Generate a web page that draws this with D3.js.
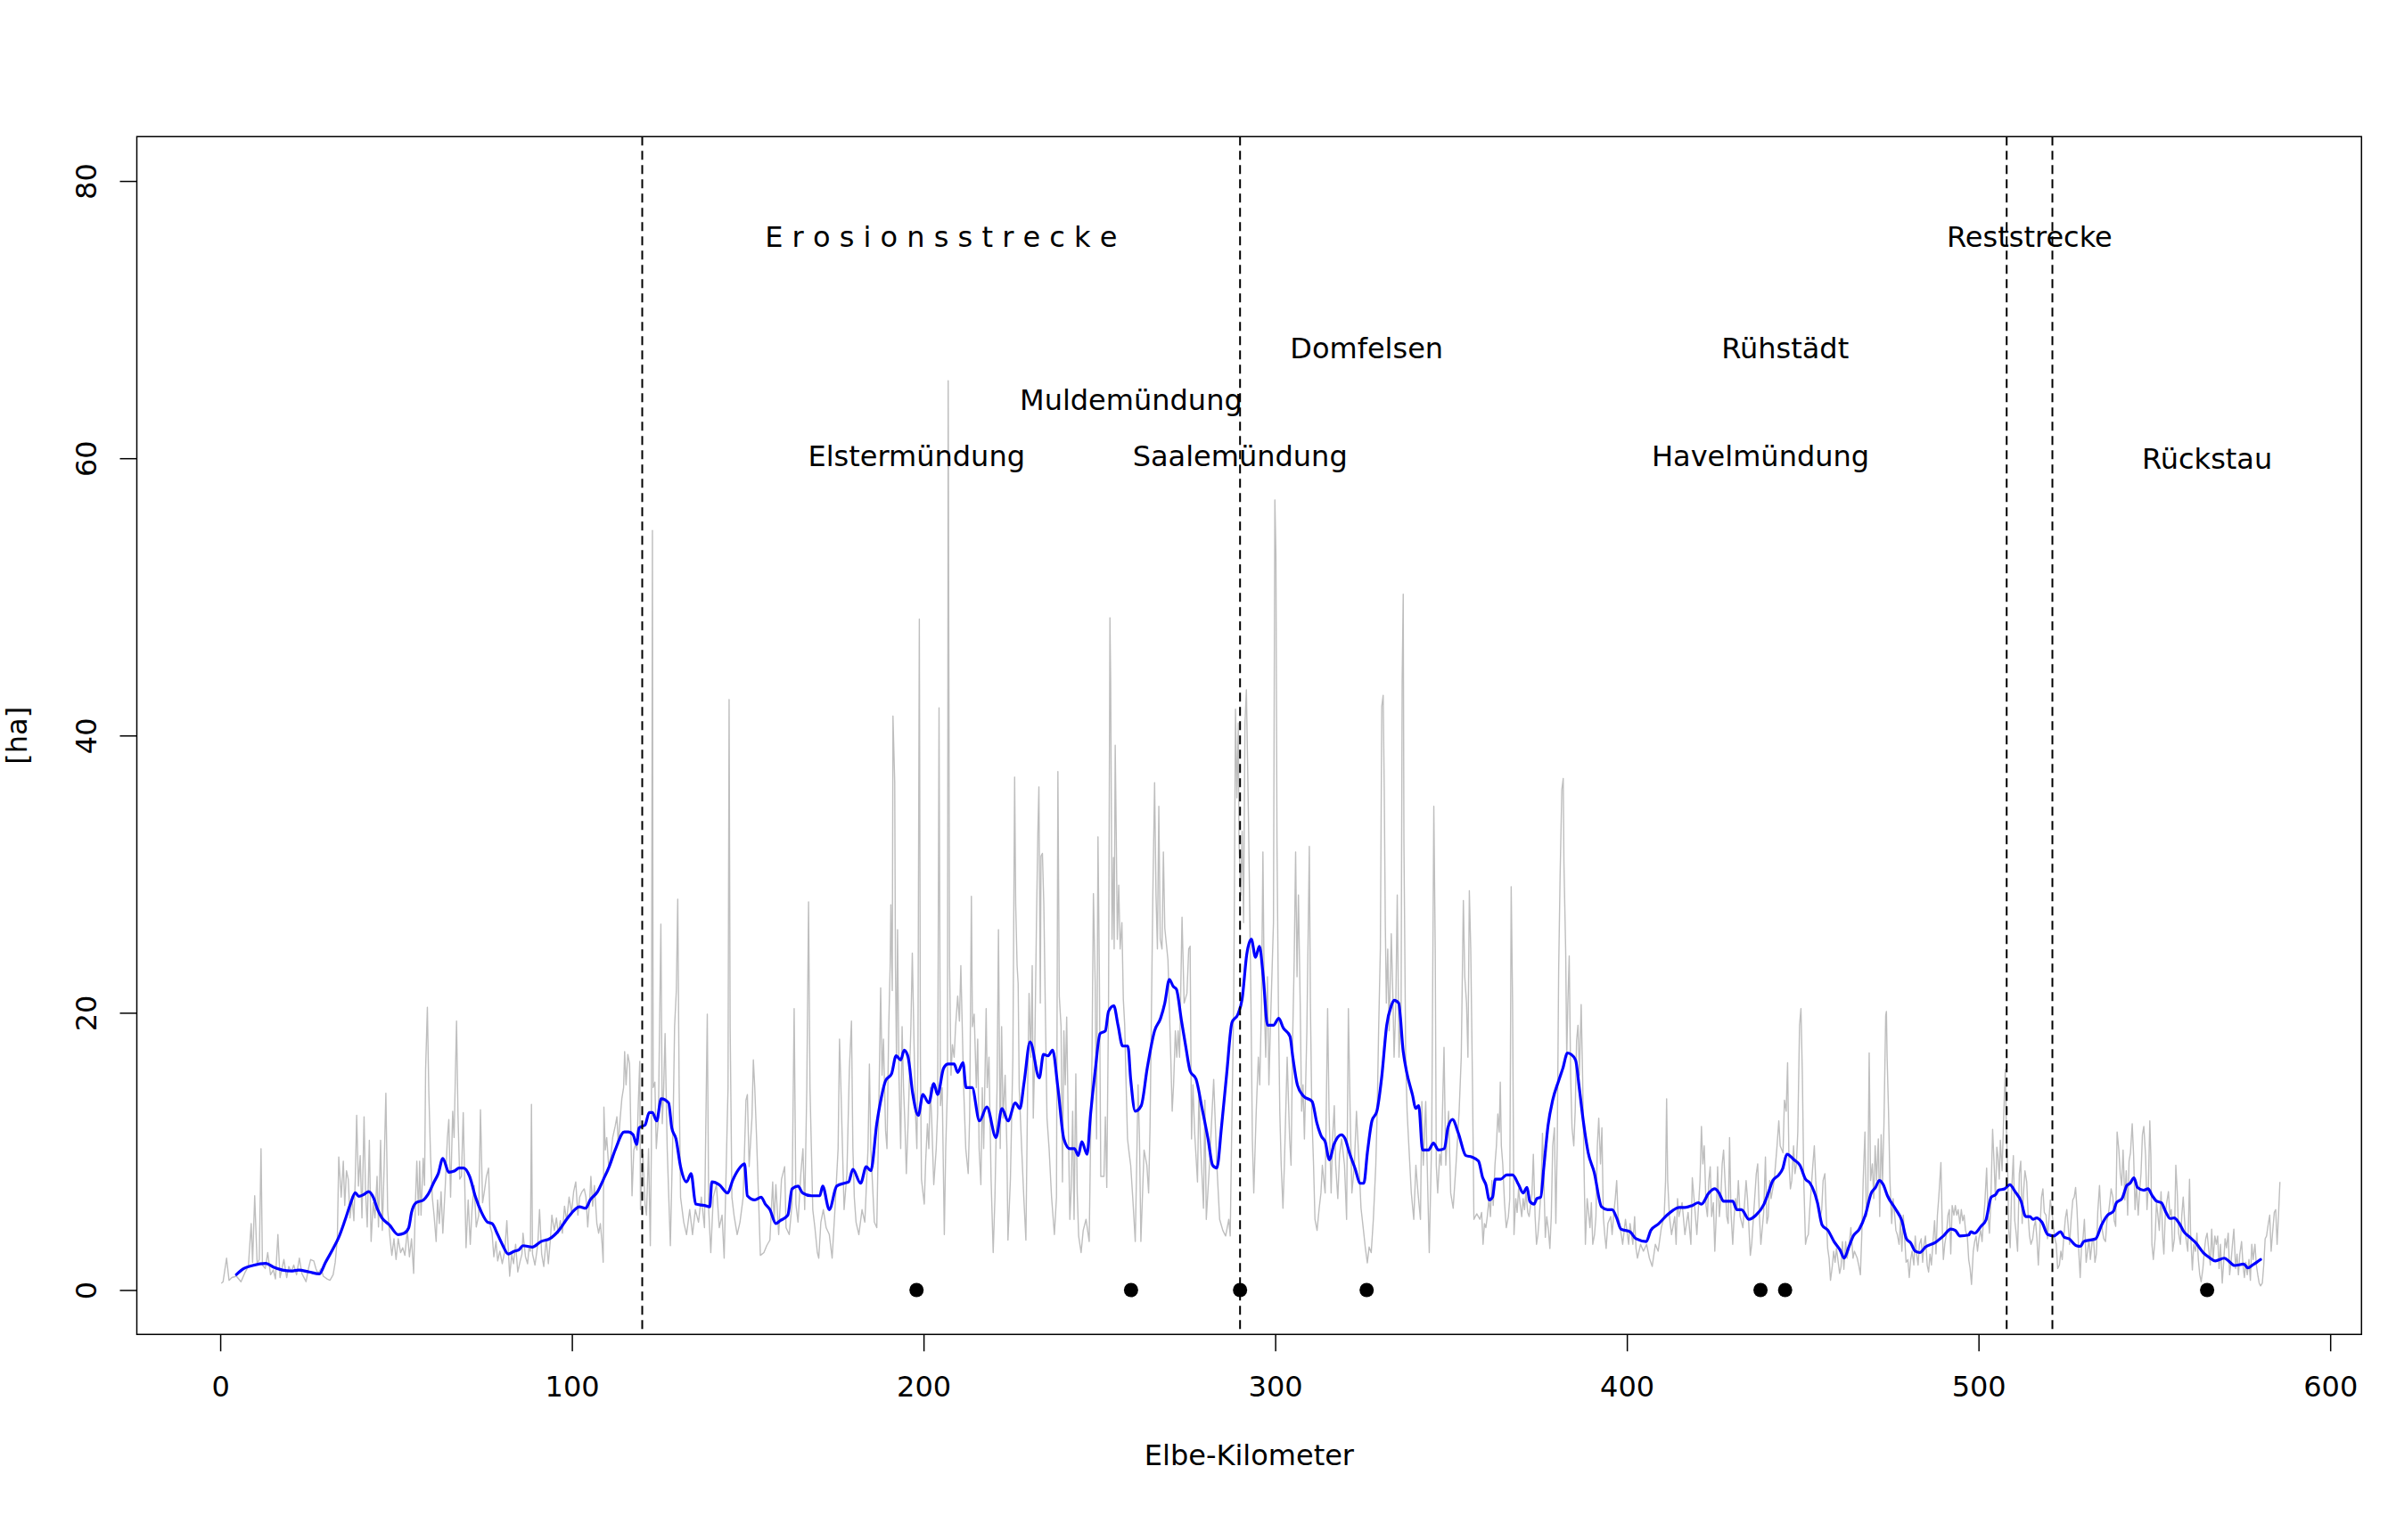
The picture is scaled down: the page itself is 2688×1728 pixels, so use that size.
<!DOCTYPE html>
<html><head><meta charset="utf-8">
<script src="https://cdn.jsdelivr.net/npm/d3@7"></script>
<style>html,body{margin:0;padding:0;background:#fff}svg{display:block}</style>
</head><body>
<svg id="chart" width="2688" height="1728"></svg>
<script>
// ---------------- data ----------------
const xTicks = [0, 100, 200, 300, 400, 500, 600];
const yTicks = [0, 20, 40, 60, 80];
const xLabel = "Elbe-Kilometer";
const yLabel = "[ha]";

// section boundaries (Elbe-km)
const boundaryKm = [120, 290, 508, 521];

// river sites marked on the axis (Elbe-km)
const siteKm = [198, 259, 290, 326, 438, 445, 565];

// annotations
const labelText = ["E r o s i o n s s t r e c k e", "Reststrecke", "Domfelsen", "Rühstädt", "Muldemündung",
                   "Elstermündung", "Saalemündung", "Havelmündung", "Rückstau"];
const labelKm = [205, 514.5, 326, 445, 259, 198, 290, 438, 565];
const labelHa = [76, 76, 68, 68, 64, 60, 60, 60, 60];

// raw values per Elbe-km [km, ha]
const rawSeries = [
[0.3,0.48],[0.8,0.59],[1.8,2.3],[2.5,0.7],[3.3,0.9],[4.6,1.0],[5.9,0.6],[7.1,1.3],[8.0,1.7],[8.8,4.8],[9.2,2.0],[9.8,6.8],[10.5,1.9],[11.1,2.2],[11.6,10.2],[12.0,1.8],[12.8,1.55],[13.5,2.7],[14.3,1.1],[15.1,1.45],[15.7,0.8],[16.4,4.0],[17.0,0.9],[18.1,2.2],[18.9,0.9],[19.5,1.7],[20.2,1.3],[20.9,1.8],[21.7,1.1],[22.5,2.3],[23.2,1.2],[24.4,0.6],[25.1,1.55],[25.7,2.2],[26.6,2.1],[27.2,1.55],[27.8,1.2],[28.7,1.55],[29.3,1.0],[30.4,0.8],[31.2,0.7],[32.1,1.1],[32.7,2.0],[33.3,3.7],[33.7,9.6],[34.4,6.7],[35.0,9.3],[35.4,6.1],[35.9,8.6],[36.4,8.0],[36.9,5.2],[37.5,6.7],[38.0,5.0],[38.4,8.0],[38.8,12.6],[39.3,7.5],[39.8,9.7],[40.3,5.2],[40.9,12.5],[41.3,7.3],[41.8,4.55],[42.4,10.8],[42.9,3.5],[43.5,6.3],[44.0,5.2],[44.6,8.2],[45.0,4.55],[45.6,10.8],[46.1,4.3],[46.6,8.8],[47.1,14.2],[47.6,5.8],[48.3,3.7],[48.8,2.5],[49.4,3.7],[50.0,2.2],[50.6,3.7],[51.3,2.7],[51.9,3.05],[52.5,2.5],[53.2,4.3],[53.8,2.4],[54.4,3.7],[55.0,1.2],[55.5,6.3],[55.9,9.3],[56.4,5.4],[56.7,9.3],[57.1,5.4],[57.7,9.5],[58.1,7.55],[58.4,15.9],[58.9,20.4],[59.3,14.4],[59.8,9.7],[60.3,6.7],[60.8,5.4],[61.4,3.5],[61.8,6.5],[62.3,4.8],[62.8,7.1],[63.3,4.1],[64.0,7.55],[64.6,11.0],[65.0,12.3],[65.5,6.7],[66.1,12.9],[66.5,11.0],[66.9,15.9],[67.2,19.4],[67.6,12.7],[68.1,8.0],[68.6,8.2],[69.1,12.8],[69.5,8.0],[69.9,3.05],[70.5,6.5],[71.1,3.3],[71.6,5.8],[72.2,7.55],[72.8,4.55],[73.5,5.4],[74.0,13.0],[74.6,6.3],[75.1,7.1],[75.7,8.2],[76.3,8.8],[76.8,4.55],[77.3,4.1],[77.8,2.4],[78.4,3.5],[78.9,2.1],[79.5,2.8],[80.2,1.9],[80.9,2.8],[81.5,5.0],[82.3,1.0],[82.9,2.6],[83.4,1.9],[84.0,3.3],[84.6,1.3],[85.3,2.1],[85.8,2.6],[86.1,4.1],[86.8,2.4],[87.4,1.9],[87.8,3.05],[88.2,2.8],[88.5,13.4],[88.8,2.6],[89.5,1.8],[90.3,3.3],[90.8,5.8],[91.4,2.6],[92.0,1.7],[92.7,3.7],[93.3,1.9],[93.9,3.7],[94.3,5.4],[95.0,4.3],[95.6,5.2],[96.1,4.1],[96.7,5.0],[97.3,4.1],[97.9,6.05],[98.5,5.0],[99.2,6.7],[99.9,5.6],[100.5,7.1],[101.1,7.8],[101.7,5.4],[102.2,6.7],[102.9,7.1],[103.5,7.3],[104.0,6.7],[104.5,4.55],[105.1,6.7],[105.4,8.2],[105.9,6.05],[106.4,7.55],[107.1,4.8],[107.6,4.1],[108.1,4.8],[108.6,3.3],[108.9,2.0],[109.1,13.2],[109.5,10.1],[109.9,11.0],[110.5,8.8],[111.1,9.7],[111.6,11.0],[112.3,11.8],[112.8,12.5],[113.2,10.5],[113.7,12.3],[114.2,13.8],[114.7,14.6],[115.0,17.2],[115.4,14.8],[115.9,17.0],[116.4,16.3],[116.9,9.7],[117.1,6.8],[117.6,10.1],[118.1,10.5],[118.5,10.1],[118.9,13.6],[119.3,16.5],
[119.5,5.8],[120.2,9.8],[120.8,6.2],[121.2,5.4],[121.8,10.2],[122.3,3.2],[122.6,10.2],[122.9,54.8],[123.1,14.6],[123.6,15.0],[124.0,10.2],[124.6,12.4],[125.3,26.4],[125.7,12.0],[126.1,14.6],[126.5,18.5],[127.1,10.2],[128.0,3.2],[128.8,12.4],[129.2,19.0],[129.7,21.6],[130.1,28.2],[130.5,14.6],[130.9,6.7],[131.8,4.9],[132.6,4.0],[133.5,5.8],[134.3,4.0],[135.1,5.8],[136.0,4.9],[136.8,6.7],[137.7,4.5],[138.5,19.9],[138.9,5.8],[139.5,2.7],[140.2,6.7],[141.1,7.6],[141.9,4.5],[142.7,5.4],[143.3,2.3],[144.0,10.2],[144.4,14.6],[144.7,42.6],[145.0,19.0],[145.5,6.7],[146.1,5.4],[147.0,4.0],[147.8,4.9],[148.7,6.7],[149.5,13.7],[149.9,14.1],[150.4,8.9],[151.2,12.4],[151.6,16.6],[152.0,14.6],[152.5,11.1],[152.9,8.0],[153.6,2.5],[154.6,2.7],[155.4,3.2],[156.3,3.6],[157.1,7.8],[157.5,4.9],[158.0,7.6],[158.8,4.0],[159.6,8.0],[160.5,8.9],[160.9,4.5],[161.8,4.0],[162.6,6.2],[163.2,20.3],[163.7,6.2],[164.3,4.9],[165.1,8.4],[165.7,10.2],[166.2,5.8],[166.8,14.6],[167.3,28.0],[167.7,14.6],[168.1,10.2],[168.5,5.8],[169.1,4.5],[169.8,2.7],[170.2,2.3],[170.8,4.9],[171.5,5.8],[172.3,4.5],[173.2,4.0],[174.0,2.3],[174.8,5.8],[175.7,10.2],[176.1,18.1],[176.5,14.6],[177.4,5.8],[178.2,8.4],[178.9,15.9],[179.5,19.4],[179.9,10.2],[180.3,6.7],[180.8,4.9],[181.6,4.0],[182.5,5.8],[183.3,4.9],[184.2,10.2],[184.6,16.3],[185.0,10.2],[186.0,4.9],[186.7,4.5],[187.1,10.2],[187.5,16.8],[187.8,21.8],[188.2,15.5],[188.6,18.1],[189.2,11.5],[189.6,10.2],[190.1,19.0],[190.5,23.4],[190.7,27.8],[191.1,21.6],[191.3,41.4],[191.8,36.6],[192.0,23.4],[192.3,16.8],[192.6,26.0],[193.0,15.5],[193.5,10.2],[193.9,19.0],[194.3,14.6],[194.7,12.0],[195.1,8.4],[195.6,12.0],[196.0,15.5],[196.4,19.0],[196.8,24.3],[197.3,17.7],[197.7,12.8],[198.1,10.2],[198.4,16.8],[198.8,48.4],[199.1,16.8],[199.4,8.0],[199.8,7.1],[200.2,6.2],[200.6,9.3],[201.1,12.0],[201.5,10.2],[201.9,14.6],[202.3,12.4],[202.9,7.6],[203.6,10.2],[204.0,12.8],[204.4,42.0],[204.8,13.3],[205.3,14.6],[205.9,4.0],[206.3,10.2],[206.8,14.6],[207.0,65.6],[207.4,23.4],[207.8,15.5],[208.2,17.7],[208.7,16.8],[209.1,19.0],[209.7,21.2],[210.2,19.4],[210.6,23.4],[211.0,19.0],[211.4,14.6],[212.0,10.2],[212.7,8.4],[213.1,12.4],[213.6,28.4],[213.9,19.0],[214.4,19.9],[215.0,14.6],[215.4,18.1],[215.8,10.2],[216.3,7.6],[216.7,14.6],[217.1,10.2],[217.8,20.3],[218.1,14.6],[218.6,16.8],[219.2,8.0],[219.8,2.7],[220.3,6.7],[220.9,14.6],[221.3,26.0],[221.8,10.2],[222.2,19.0],[222.6,12.4],[223.2,15.5],[223.7,10.2],[224.0,3.6],[224.7,8.0],[225.4,16.8],[225.9,37.0],[226.2,27.8],[226.6,23.4],[226.9,22.1],[227.2,14.6],[227.9,10.2],[228.5,6.7],[229.1,3.6],[229.6,14.6],[230.0,21.4],[230.5,16.8],[230.9,23.4],[231.2,12.4],[231.6,16.8],[232.1,26.4],[232.5,33.0],[232.8,36.3],[233.2,20.7],[233.4,31.3],[233.8,31.5],[234.2,27.8],[234.7,19.0],[235.1,12.4],[235.7,10.2],[236.4,6.7],[237.2,4.0],[237.8,6.7],[238.2,37.4],[238.6,21.2],[239.1,19.0],
[239.5,7.8],[239.9,18.7],[240.3,14.8],[240.7,19.7],[241.1,12.9],[241.6,5.1],[242.0,7.4],[242.4,12.9],[242.8,5.1],[243.3,15.6],[243.7,7.0],[244.1,3.9],[244.8,2.7],[245.4,4.3],[246.2,5.1],[247.1,3.5],[247.5,10.9],[247.9,16.8],[248.3,28.6],[248.8,22.2],[249.2,10.9],[249.6,32.7],[250.0,22.6],[250.4,8.2],[251.3,8.2],[251.7,12.5],[252.1,7.4],[252.6,20.7],[253.0,48.5],[253.2,44.0],[253.6,25.3],[254.0,31.2],[254.2,24.6],[254.5,39.3],[254.8,32.7],[255.1,25.3],[255.5,29.2],[255.9,24.6],[256.4,26.5],[256.8,21.0],[257.2,19.1],[257.6,14.8],[258.0,10.9],[258.5,9.8],[258.9,9.0],[259.5,6.6],[260.2,3.5],[260.6,9.0],[261.0,14.8],[261.4,10.9],[261.8,3.5],[262.7,10.1],[263.5,9.0],[264.0,7.0],[264.4,11.7],[265.2,28.5],[265.7,36.6],[266.1,28.5],[266.5,24.6],[266.9,34.9],[267.3,25.3],[267.8,24.6],[268.2,31.6],[268.6,26.1],[269.5,23.8],[270.3,16.8],[270.7,12.9],[271.1,14.8],[271.6,18.7],[272.0,16.8],[272.4,18.7],[272.8,16.8],[273.5,26.9],[274.1,20.7],[274.9,21.4],[275.4,24.6],[275.8,24.8],[276.2,10.9],[276.6,14.8],[277.1,11.3],[277.9,7.8],[278.3,14.4],[278.7,10.9],[279.6,5.9],[280.0,13.7],[280.4,5.1],[281.3,9.0],[282.5,15.2],[283.4,9.0],[284.2,5.1],[285.1,4.3],[285.9,3.9],[286.8,5.1],[287.2,3.9],[287.6,10.9],[288.2,20.7],[288.7,41.9],[289.1,35.5],[289.5,40.9],[289.7,32.3],[290.2,28.5],[290.6,33.1],[291.0,26.5],[291.4,40.9],[291.8,43.3],[292.3,35.5],[292.7,28.5],[293.1,20.7],[293.5,10.9],[293.9,7.0],[294.6,12.9],[295.2,16.8],[295.6,14.8],[296.1,20.7],[296.5,31.6],[296.9,20.7],[297.3,16.8],[297.8,22.6],[298.2,14.8],[298.6,18.7],[299.5,26.5],[299.9,57.0],[300.2,53.0],[300.5,32.3],[300.9,20.7],[301.3,12.9],[301.7,9.0],[302.2,5.9],[302.6,9.0],[303.0,12.9],[303.4,16.8],[304.1,10.9],[304.5,9.0],[305.0,18.7],[305.4,23.8],[305.8,31.6],[306.2,22.6],[306.6,28.5],[307.1,20.7],[307.5,12.9],[307.9,14.8],[308.3,10.9],[309.0,18.7],[309.7,32.0],[310.0,20.7],[310.4,12.9],[310.9,9.0],[311.3,5.1],[311.9,4.3],[312.5,5.9],[313.0,7.0],[313.4,9.0],[314.2,7.0],[314.9,20.3],[315.3,12.9],[315.9,7.0],[316.3,10.9],[316.8,13.3],[317.2,9.0],[317.8,6.6],[318.3,9.8],[318.9,10.9],[319.7,9.0],[320.3,5.1],[320.8,20.3],[321.3,12.9],[321.8,7.0],[322.5,9.0],[323.1,12.9],[323.7,9.8],[324.4,5.9],[325.1,4.3],[325.6,3.1],[326.2,1.96],[326.7,3.1],[327.3,2.7],[327.9,5.1],[328.6,9.0],[329.0,12.9],[329.4,18.7],[329.9,24.6],[330.3,42.1],[330.7,42.9],[331.0,36.2],[331.3,26.5],[331.6,20.7],[332.0,24.6],[332.4,18.7],[333.0,25.7],[333.5,20.7],[333.8,16.8],[334.3,20.7],[334.7,28.5],[335.2,16.8],[335.8,20.7],[336.1,44.0],[336.4,50.2],[336.6,32.3],[337.1,16.8],[337.5,12.9],[337.9,10.9],[338.7,7.0],[339.4,5.1],[340.0,9.0],[340.6,7.0],[341.3,5.1],[341.7,13.6],[342.1,9.0],[342.8,13.6],[343.4,7.0],[343.8,2.7],[344.5,10.9],[345.1,34.9],[345.5,24.6],[345.8,9.0],[346.2,7.0],[346.8,9.8],[347.2,9.0],[348.0,17.5],[348.5,9.0],[349.3,12.9],[349.9,7.0],[350.6,5.9],[351.4,9.0],[352.3,12.9],[352.9,16.8],[353.5,28.1],[353.9,22.6],[354.4,20.7],[354.8,16.8],[355.2,28.8],[355.6,24.6],[356.1,14.8],[356.5,5.1],[357.3,5.5],[358.2,5.1],
[358.7,5.6],[359.1,3.3],[359.5,4.8],[359.9,4.5],[360.3,5.3],[360.8,6.6],[361.2,5.3],[361.6,7.9],[362.0,6.1],[362.5,9.1],[362.9,10.4],[363.3,12.7],[363.7,11.4],[364.0,15.0],[364.3,10.4],[364.7,9.1],[365.2,6.3],[365.7,4.5],[366.3,5.3],[366.7,6.6],[367.1,29.1],[367.5,20.6],[367.9,4.0],[368.4,6.6],[368.8,5.6],[369.2,7.3],[369.6,6.3],[370.1,5.3],[370.5,6.6],[370.9,5.8],[371.3,7.1],[371.8,5.6],[372.2,5.3],[373.0,6.9],[373.4,9.8],[373.9,5.3],[374.3,3.3],[374.7,4.0],[375.1,5.3],[375.6,7.3],[376.0,11.3],[376.4,7.9],[376.8,3.8],[377.2,5.3],[377.7,4.3],[378.1,3.0],[378.5,5.3],[378.9,10.4],[379.4,11.7],[379.8,4.8],[380.2,10.4],[380.6,23.1],[381.0,29.7],[381.5,36.1],[381.9,36.9],[382.1,30.8],[382.6,24.4],[382.9,16.8],[383.2,20.6],[383.6,24.1],[384.0,15.5],[384.4,11.7],[384.9,10.4],[385.3,12.9],[385.7,18.0],[386.1,19.1],[386.5,15.5],[387.0,20.6],[387.4,15.5],[387.8,9.1],[388.2,3.3],[388.7,6.6],[389.1,5.6],[389.5,4.5],[389.9,6.3],[390.3,3.3],[390.8,4.0],[391.2,5.3],[391.6,10.4],[392.0,12.4],[392.5,9.1],[392.9,11.7],[393.3,5.3],[393.7,4.0],[394.1,3.0],[394.6,4.8],[395.4,5.3],[395.8,4.0],[396.3,5.6],[396.7,6.6],[397.1,7.9],[397.5,5.3],[397.9,4.8],[398.4,4.0],[398.8,3.3],[399.6,5.1],[400.5,3.3],[400.9,4.8],[401.7,3.3],[402.2,5.3],[402.6,3.0],[403.0,2.3],[403.9,3.3],[404.7,2.8],[405.6,3.3],[406.4,2.3],[407.2,1.7],[408.1,3.3],[408.9,2.8],[409.8,4.5],[410.6,5.3],[411.0,7.9],[411.3,13.8],[411.6,7.9],[412.1,5.3],[412.7,4.0],[413.6,5.3],[414.0,3.3],[414.4,6.6],[414.8,5.3],[415.7,6.3],[416.5,4.0],[417.4,5.6],[418.2,3.3],[418.6,8.1],[419.1,6.6],[419.5,5.3],[419.9,4.0],[420.8,7.9],[421.2,11.8],[421.6,9.1],[422.0,10.4],[422.5,6.1],[422.9,5.3],[423.3,7.9],[423.7,8.9],[424.1,5.3],[424.6,6.3],[425.0,2.8],[425.4,5.3],[425.8,8.9],[426.3,5.3],[426.7,6.6],[427.1,9.1],[427.5,10.1],[427.9,7.9],[428.4,5.3],[428.8,4.8],[429.2,11.0],[429.6,5.6],[430.1,3.3],[430.5,5.3],[430.9,6.6],[431.3,5.8],[431.7,7.9],[432.2,5.3],[433.0,4.5],[433.9,7.9],[434.3,6.6],[435.1,2.5],[435.5,3.3],[436.0,5.3],[436.8,8.4],[437.2,9.1],[437.7,5.3],[438.1,3.3],[438.9,5.6],[439.4,9.6],[439.8,4.8],[440.2,5.3],[440.6,7.9],[441.0,6.6],[441.9,7.9],[442.7,10.4],[443.2,12.2],[443.6,10.4],[444.4,9.9],[444.8,13.7],[445.3,12.9],[445.7,16.4],[446.1,9.1],[446.5,7.3],[446.9,7.9],[447.4,10.4],[447.8,8.4],[448.2,9.1],[448.6,11.4],[449.1,19.1],[449.5,20.3],[449.9,15.5],[450.3,7.9],[450.8,3.3],[451.2,3.8],[451.6,4.0],[452.0,5.8],[452.9,9.1],[453.3,10.4],[453.7,7.9],[454.1,6.6],[455.0,5.3],[455.4,5.8],[455.8,7.9],[456.3,8.4],[456.7,5.3],[457.1,3.0],[457.5,2.3],[457.9,0.7],[458.4,1.7],[458.8,2.8],[459.2,2.0],[459.6,3.0],[460.5,1.2],[460.9,1.7],[461.3,3.5],[461.7,1.5],[462.2,3.5],[462.6,2.3],[463.0,2.8],[463.7,4.5],[464.3,2.3],[464.7,2.8],[465.5,2.3],[466.0,1.7],[466.4,1.1],[466.8,4.0],[467.2,7.9],[467.7,11.4],[468.1,5.3],[468.5,6.6],[468.9,17.1],[469.3,7.9],[469.8,9.1],[470.2,6.6],[470.6,10.4],[471.0,7.9],[471.5,10.9],[471.9,5.3],[472.3,11.2],[472.7,7.9],[473.1,11.9],[473.6,19.8],[473.8,20.1],[474.0,16.8],[474.4,12.9],[474.8,7.9],[475.3,4.8],[475.7,6.6],[476.1,5.6],[476.5,4.3],[476.9,4.0],[477.4,3.3],
[477.8,5.0],[478.2,2.8],[478.6,5.4],[479.0,3.7],[479.4,2.0],[479.9,2.2],[480.3,0.9],[480.7,2.2],[481.1,2.8],[481.6,1.8],[482.0,3.9],[482.4,2.6],[482.8,1.8],[483.2,3.3],[483.7,3.7],[484.1,2.0],[484.5,3.3],[484.9,3.9],[485.4,1.8],[485.8,1.3],[486.2,2.6],[486.6,1.8],[487.1,3.7],[487.5,5.0],[487.9,2.6],[488.3,5.4],[488.7,6.7],[489.3,9.2],[489.7,4.3],[490.0,2.2],[490.4,3.3],[490.9,4.1],[491.3,5.4],[491.7,5.8],[492.1,2.6],[492.5,6.1],[493.0,5.4],[493.4,6.1],[493.8,5.4],[494.2,5.8],[494.7,4.8],[495.1,5.8],[495.5,5.0],[495.9,5.4],[496.3,4.3],[496.8,3.9],[497.2,2.2],[497.6,1.55],[498.0,0.4],[498.5,2.8],[498.9,3.5],[499.3,3.9],[499.7,2.8],[500.1,3.7],[500.6,4.3],[501.0,3.5],[501.4,5.0],[501.8,6.3],[502.3,8.8],[502.7,5.4],[503.1,4.1],[503.5,6.5],[504.0,11.6],[504.4,9.3],[504.8,6.5],[505.2,10.3],[505.5,9.7],[505.9,8.0],[506.2,10.8],[506.7,8.6],[507.2,12.9],[507.6,15.9],[507.9,11.8],[508.3,8.4],[508.6,4.3],[509.0,3.05],[509.4,7.1],[509.9,9.7],[510.3,5.0],[510.7,4.1],[511.1,2.8],[511.6,8.4],[512.0,9.3],[512.4,4.8],[512.8,7.1],[513.2,8.6],[513.7,7.8],[514.1,5.4],[514.5,3.9],[514.9,3.3],[515.4,3.7],[515.8,4.6],[516.2,5.0],[516.6,3.7],[517.0,1.8],[517.5,4.6],[517.9,6.7],[518.3,7.3],[518.7,5.6],[519.2,5.4],[519.6,3.7],[520.0,5.0],[520.4,6.5],[520.9,5.6],[521.3,4.6],[521.7,3.7],[522.1,3.3],[522.5,1.55],[523.0,1.8],[523.4,2.8],[523.8,2.2],[524.2,3.7],[524.7,5.2],[525.1,5.8],[525.5,4.6],[525.9,3.3],[526.3,5.0],[526.8,6.5],[527.2,6.7],[527.6,7.4],[528.0,5.8],[528.5,2.8],[528.9,0.9],[529.3,3.3],[529.7,3.7],[530.1,5.1],[530.6,2.0],[531.0,2.8],[531.4,3.7],[531.8,2.2],[532.3,3.5],[532.7,3.7],[533.1,2.0],[533.5,2.6],[533.9,5.6],[534.4,7.55],[534.8,5.4],[535.2,4.3],[535.6,3.7],[536.1,3.5],[536.5,5.0],[536.9,5.4],[537.3,6.3],[537.7,7.3],[538.2,6.7],[538.6,5.0],[539.0,4.6],[539.4,11.4],[539.9,10.1],[540.3,8.4],[540.7,7.55],[541.1,10.1],[541.6,6.5],[542.0,8.6],[542.4,5.4],[542.8,9.3],[543.2,9.9],[543.7,12.0],[544.1,9.7],[544.5,5.8],[544.9,7.55],[545.4,5.4],[545.8,7.1],[546.2,8.4],[546.6,11.2],[547.0,11.8],[547.5,9.7],[547.9,5.8],[548.3,7.55],[548.7,12.2],[549.0,9.7],[549.3,3.3],[549.7,2.2],[550.2,3.7],[550.6,6.3],[551.0,5.4],[551.4,4.3],[551.9,7.1],[552.4,3.7],[552.7,2.6],[553.1,5.4],[553.5,6.3],[554.0,7.1],[554.4,5.4],[554.8,5.8],[555.2,2.8],[555.7,3.7],[556.1,9.0],[556.5,7.1],[556.9,4.1],[557.4,3.3],[557.8,5.4],[558.2,6.7],[558.6,5.0],[559.0,3.7],[559.5,2.8],[560.0,8.0],[560.3,4.1],[560.8,1.45],[561.2,3.3],[561.7,2.8],[562.1,4.1],[562.5,2.2],[562.9,1.1],[563.3,0.6],[563.8,1.55],[564.2,2.8],[564.6,3.7],[565.0,4.1],[565.5,2.8],[565.9,1.8],[566.3,4.4],[566.7,2.2],[567.2,3.9],[567.6,3.3],[568.0,3.9],[568.4,1.55],[568.8,3.3],[569.3,0.5],[569.7,2.0],[570.1,3.7],[570.5,3.05],[571.0,4.1],[571.4,1.1],[571.8,2.0],[572.2,3.3],[572.6,4.4],[573.1,1.55],[573.5,2.6],[573.9,1.1],[574.3,2.6],[574.8,3.5],[575.2,1.8],[575.6,0.9],[576.0,2.0],[576.4,1.1],[576.9,2.2],[577.3,0.7],[577.7,3.3],[578.1,2.2],[578.6,3.3],[579.0,1.8],[579.4,1.1],[579.8,0.5],[580.2,0.3],[580.7,0.5],[581.1,1.8],[581.5,3.7],[581.9,3.9],[582.4,4.8],[582.8,5.4],[583.2,2.8],[583.6,4.1],[584.1,5.6],[584.5,5.8],[584.9,3.3],[585.3,5.4],[585.7,7.8]
];

// moving average per Elbe-km [km, ha]
const smoothSeries = [
[4.6,1.12],[6.7,1.55],[9.2,1.77],[13.0,1.92],[15.1,1.66],[17.7,1.44],[20.2,1.37],[22.3,1.44],[25.3,1.30],[28.2,1.17],[29.9,1.98],[32.0,2.94],[33.7,3.8],[35.4,4.98],[37.1,6.27],[38.4,7.02],[39.4,6.76],[40.9,6.9],[42.2,7.1],[43.5,6.7],[44.7,5.85],[46.0,5.2],[48.1,4.7],[50.6,4.0],[52.3,4.1],[53.6,4.5],[54.4,5.6],[55.7,6.3],[57.8,6.5],[59.1,6.9],[60.8,7.8],[62.0,8.4],[63.3,9.5],[65.0,8.5],[66.7,8.6],[67.9,8.8],[69.2,8.8],[70.9,8.2],[72.6,6.7],[74.3,5.6],[76.0,4.9],[77.3,4.8],[78.9,4.0],[80.2,3.3],[81.9,2.6],[83.6,2.8],[84.9,2.9],[86.1,3.2],[88.7,3.1],[91.2,3.5],[93.7,3.7],[96.3,4.3],[98.8,5.2],[102.2,6.0],[103.9,5.9],[105.2,6.5],[107.3,7.1],[109.0,8.0],[110.6,8.9],[112.3,10.1],[114.9,11.4],[116.1,11.4],[117.4,11.2],[118.4,10.5],[119.1,11.7],[119.9,11.8],
[120.8,11.9],[122.0,12.8],[122.9,12.8],[124.1,12.2],[125.4,13.8],[127.5,13.5],[128.4,11.7],[129.6,10.9],[130.9,8.9],[132.6,7.8],[133.9,8.4],[135.2,6.2],[137.7,6.1],[139.2,6.0],[139.8,7.8],[141.9,7.6],[144.3,7.0],[145.7,7.9],[147.4,8.7],[149.1,9.1],[149.9,6.8],[152.0,6.5],[153.8,6.7],[155.0,6.2],[156.3,5.8],[158.0,4.8],[159.2,5.0],[161.4,5.4],[162.6,7.3],[164.3,7.5],[165.6,7.0],[168.1,6.8],[170.5,6.8],[171.3,7.5],[173.2,5.8],[175.3,7.5],[177.4,7.7],[178.7,7.8],[179.9,8.7],[182.1,7.7],[183.7,8.9],[185.0,8.6],[186.7,12.0],[188.0,13.9],[189.2,15.1],[190.9,15.6],[192.2,16.9],[193.5,16.6],[194.5,17.3],[195.6,16.8],[196.9,14.2],[198.5,12.6],[199.8,14.1],[201.5,13.5],[202.9,14.9],[204.0,14.1],[205.7,16.0],[207.0,16.3],[208.7,16.3],[209.7,15.7],[211.2,16.4],[212.1,14.6],[213.8,14.6],[215.9,12.2],[218.0,13.2],[220.6,11.0],[222.3,13.1],[224.0,12.2],[226.1,13.5],[227.4,13.1],[228.6,15.0],[230.3,17.9],[232.9,15.3],[234.1,17.0],[235.4,16.9],[236.7,17.3],
[238.2,14.6],[239.9,10.9],[241.6,10.2],[242.9,10.2],[244.0,9.7],[245.0,10.7],[246.5,9.8],[247.5,12.7],[248.8,15.8],[250.2,18.5],[251.7,18.7],[252.6,20.1],[254.1,20.5],[255.3,19.1],[256.6,17.6],[258.1,17.6],[258.9,15.2],[260.2,12.9],[261.9,13.3],[263.6,16.0],[265.7,18.7],[267.4,19.6],[268.6,20.7],[269.9,22.4],[271.0,21.9],[271.9,21.7],[273.3,19.5],[274.6,17.5],[275.8,15.8],[277.5,15.2],[279.2,13.1],[280.9,10.9],[282.2,9.0],[283.4,8.8],[284.7,11.7],[286.2,15.6],[287.7,19.3],[289.4,19.9],[290.6,21.0],[291.9,24.2],[293.2,25.3],[294.4,24.0],[295.5,24.8],[296.6,22.6],[297.8,19.1],[299.5,19.1],[301.0,19.6],[302.3,18.9],[304.2,18.3],[305.0,16.8],[306.3,14.8],[308.0,14.0],[310.5,13.6],[311.8,12.1],[313.1,11.1],[314.2,10.7],[315.4,9.4],[316.7,10.5],[318.8,11.2],[319.9,10.9],[321.1,9.9],[322.8,8.7],[324.1,7.7],[325.2,7.7],[326.2,9.9],[327.5,12.2],[328.9,12.9],[330.3,15.4],[331.7,19.1],[333.0,20.5],[333.8,20.9],[335.1,20.7],[336.4,17.2],[337.4,15.7],[339.1,14.0],[339.9,13.1],[340.8,13.3],[341.9,10.1],[343.6,10.1],[345.0,10.6],[346.4,10.1],[348.1,10.2],[349.1,11.7],[350.4,12.3],[352.1,11.3],[354.2,9.7],[355.9,9.6],
[357.8,9.3],[359.0,8.1],[359.9,7.6],[360.9,6.5],[361.8,6.7],[362.6,8.0],[364.1,8.0],[365.8,8.3],[367.5,8.3],[369.2,7.6],[370.5,7.0],[371.6,7.4],[372.4,6.4],[373.6,6.2],[374.4,6.6],[375.5,6.7],[376.4,8.9],[377.6,11.9],[378.9,13.7],[380.6,15.1],[381.8,16.0],[383.1,17.1],[384.1,17.0],[385.4,16.6],[386.5,14.5],[387.6,12.2],[389.0,9.9],[390.7,8.5],[392.8,6.0],[394.5,5.8],[395.8,5.8],[397.1,5.2],[398.3,4.4],[400.9,4.2],[402.6,3.7],[405.5,3.5],[406.8,4.3],[408.9,4.75],[411.4,5.4],[413.1,5.75],[414.8,5.95],[416.5,5.95],[418.6,6.1],[420.3,6.3],[421.2,6.2],[423.3,7.0],[425.0,7.3],[426.2,7.0],[427.5,6.4],[430.1,6.4],[431.3,5.8],[432.6,5.8],[434.7,5.1],[436.7,5.4],[439.0,6.2],[440.2,7.0],[441.5,7.9],[443.2,8.3],[444.3,8.75],[445.5,9.8],[447.5,9.4],[449.2,9.0],[450.8,8.0],[452.1,7.7],[454.2,6.3],[455.5,4.7],[457.2,4.3],[458.9,3.5],[460.6,2.9],[461.8,2.3],[463.1,3.1],[464.4,3.9],[466.1,4.4],[467.8,5.4],[469.5,7.0],[470.7,7.4],[471.8,7.9],[472.9,7.6],[474.1,6.8],
[476.5,5.8],[478.2,5.0],[479.5,3.7],[480.7,3.4],[482.0,2.8],[483.3,2.7],[484.9,3.1],[487.5,3.4],[490.0,3.9],[492.1,4.4],[493.4,4.3],[494.7,3.9],[497.2,3.97],[497.8,4.2],[498.9,4.1],[500.7,4.6],[502.1,5.05],[503.6,6.7],[504.9,6.9],[505.7,7.2],[507.4,7.3],[508.9,7.6],[510.4,7.1],[512.1,6.4],[513.4,5.3],[514.6,5.3],[515.5,5.1],[516.5,5.2],[518.0,4.9],[519.7,4.0],[521.4,3.9],[523.3,4.2],[524.4,3.8],[525.7,3.7],[527.8,3.2],[529.0,3.15],[529.9,3.5],[531.6,3.6],[533.3,3.7],[535.0,4.7],[536.7,5.4],[538.4,5.7],[539.2,6.3],[540.8,6.6],[542.2,7.55],[543.1,7.7],[544.2,8.1],[545.2,7.4],[546.9,7.2],[548.2,7.3],[549.4,6.8],[550.7,6.4],[552.0,6.3],[553.3,5.6],[554.5,5.16],[555.6,5.2],[557.1,4.8],[558.4,4.2],[560.1,3.8],[561.8,3.4],[563.9,2.7],[565.6,2.35],[567.3,2.1],[569.9,2.3],[571.1,2.1],[572.8,1.77],[575.4,1.87],[576.6,1.6],[577.9,1.8],[579.1,2.0],[580.2,2.2]
];

// ---------------- layout ----------------
const W = 2688, H = 1728;
const plot = {left: 153.5, top: 153.3, right: 2649.3, bottom: 1497.3};
const FONT = '"DejaVu Sans", "Liberation Sans", sans-serif';
const FS = 32;

const x = d3.scaleLinear().domain([-23.72, 608.9]).range([plot.left, plot.right]);
const y = d3.scaleLinear().domain([-3.2, 83.2]).range([plot.bottom, plot.top]);

const svg = d3.select("#chart");
svg.append("rect").attr("width", W).attr("height", H).attr("fill", "#ffffff");

// ink-based vertical centring, like R's text()
const ctx = document.createElement("canvas").getContext("2d");
ctx.font = FS + "px " + FONT;
function inkShift(str) {
  const m = ctx.measureText(str);
  return (m.actualBoundingBoxAscent - m.actualBoundingBoxDescent) / 2;
}

const defs = svg.append("defs");
defs.append("clipPath").attr("id", "plotclip").append("rect")
  .attr("x", plot.left).attr("y", plot.top)
  .attr("width", plot.right - plot.left).attr("height", plot.bottom - plot.top);

const g = svg.append("g").attr("clip-path", "url(#plotclip)");

// raw series (grey)
g.append("path").datum(rawSeries)
  .attr("fill", "none").attr("stroke", "#bebebe").attr("stroke-width", 1.4)
  .attr("stroke-linejoin", "round")
  .attr("d", d3.line().x(d => x(d[0])).y(d => y(d[1])));

// smoothed series (blue)
g.append("path").datum(smoothSeries)
  .attr("fill", "none").attr("stroke", "#0000ff").attr("stroke-width", 3.2)
  .attr("stroke-linejoin", "round").attr("stroke-linecap", "round")
  .attr("d", d3.line().curve(d3.curveMonotoneX).x(d => x(d[0])).y(d => y(d[1])));

// boundaries (dashed)
g.selectAll("line.bound").data(boundaryKm).join("line")
  .attr("class", "bound")
  .attr("x1", d => x(d)).attr("x2", d => x(d))
  .attr("y1", plot.top).attr("y2", plot.bottom)
  .attr("stroke", "#000").attr("stroke-width", 2)
  .attr("stroke-dasharray", "10,6");

// site points
g.selectAll("circle.site").data(siteKm).join("circle")
  .attr("class", "site")
  .attr("cx", d => x(d)).attr("cy", y(0)).attr("r", 8).attr("fill", "#000");

// annotations
svg.append("g").selectAll("text").data(labelText).join("text")
  .attr("x", (d, i) => x(labelKm[i]))
  .attr("y", (d, i) => y(labelHa[i]) + inkShift(d))
  .attr("text-anchor", "middle")
  .attr("font-family", FONT).attr("font-size", FS).attr("fill", "#000")
  .style("white-space", "pre")
  .text(d => d);

// axes
const xAxis = svg.append("g").attr("transform", `translate(0,${plot.bottom})`)
  .call(d3.axisBottom(x).tickValues(xTicks).tickSize(19).tickSizeOuter(0).tickFormat(d3.format("d")));
xAxis.select(".domain").remove();
xAxis.selectAll(".tick line").attr("stroke", "#000").attr("stroke-width", 1.5);
xAxis.selectAll(".tick text")
  .attr("font-family", FONT).attr("font-size", FS).attr("fill", "#000")
  .attr("dy", null)
  .attr("y", d => 1556 - plot.bottom + inkShift(String(d)));

const yAxis = svg.append("g").attr("transform", `translate(${plot.left},0)`)
  .call(d3.axisLeft(y).tickValues(yTicks).tickSize(19).tickSizeOuter(0).tickFormat(d3.format("d")));
yAxis.select(".domain").remove();
yAxis.selectAll(".tick line").attr("stroke", "#000").attr("stroke-width", 1.5);
yAxis.selectAll(".tick text")
  .attr("font-family", FONT).attr("font-size", FS).attr("fill", "#000")
  .attr("x", null).attr("dy", null).attr("y", 0)
  .attr("text-anchor", "middle")
  .attr("transform", d => `translate(${96.7 - plot.left + inkShift(String(d))},0) rotate(-90)`);

// box
svg.append("rect")
  .attr("x", plot.left).attr("y", plot.top)
  .attr("width", plot.right - plot.left).attr("height", plot.bottom - plot.top)
  .attr("fill", "none").attr("stroke", "#000").attr("stroke-width", 1.5);

// axis titles
svg.append("text")
  .attr("x", (plot.left + plot.right) / 2)
  .attr("y", 1632 + inkShift(xLabel))
  .attr("text-anchor", "middle")
  .attr("font-family", FONT).attr("font-size", FS).attr("fill", "#000")
  .text(xLabel);

const yc = (plot.top + plot.bottom) / 2;
svg.append("text")
  .attr("transform", `translate(${20.6 + inkShift(yLabel)},${yc}) rotate(-90)`)
  .attr("text-anchor", "middle")
  .attr("font-family", FONT).attr("font-size", FS).attr("fill", "#000")
  .text(yLabel);
</script>
</body></html>
